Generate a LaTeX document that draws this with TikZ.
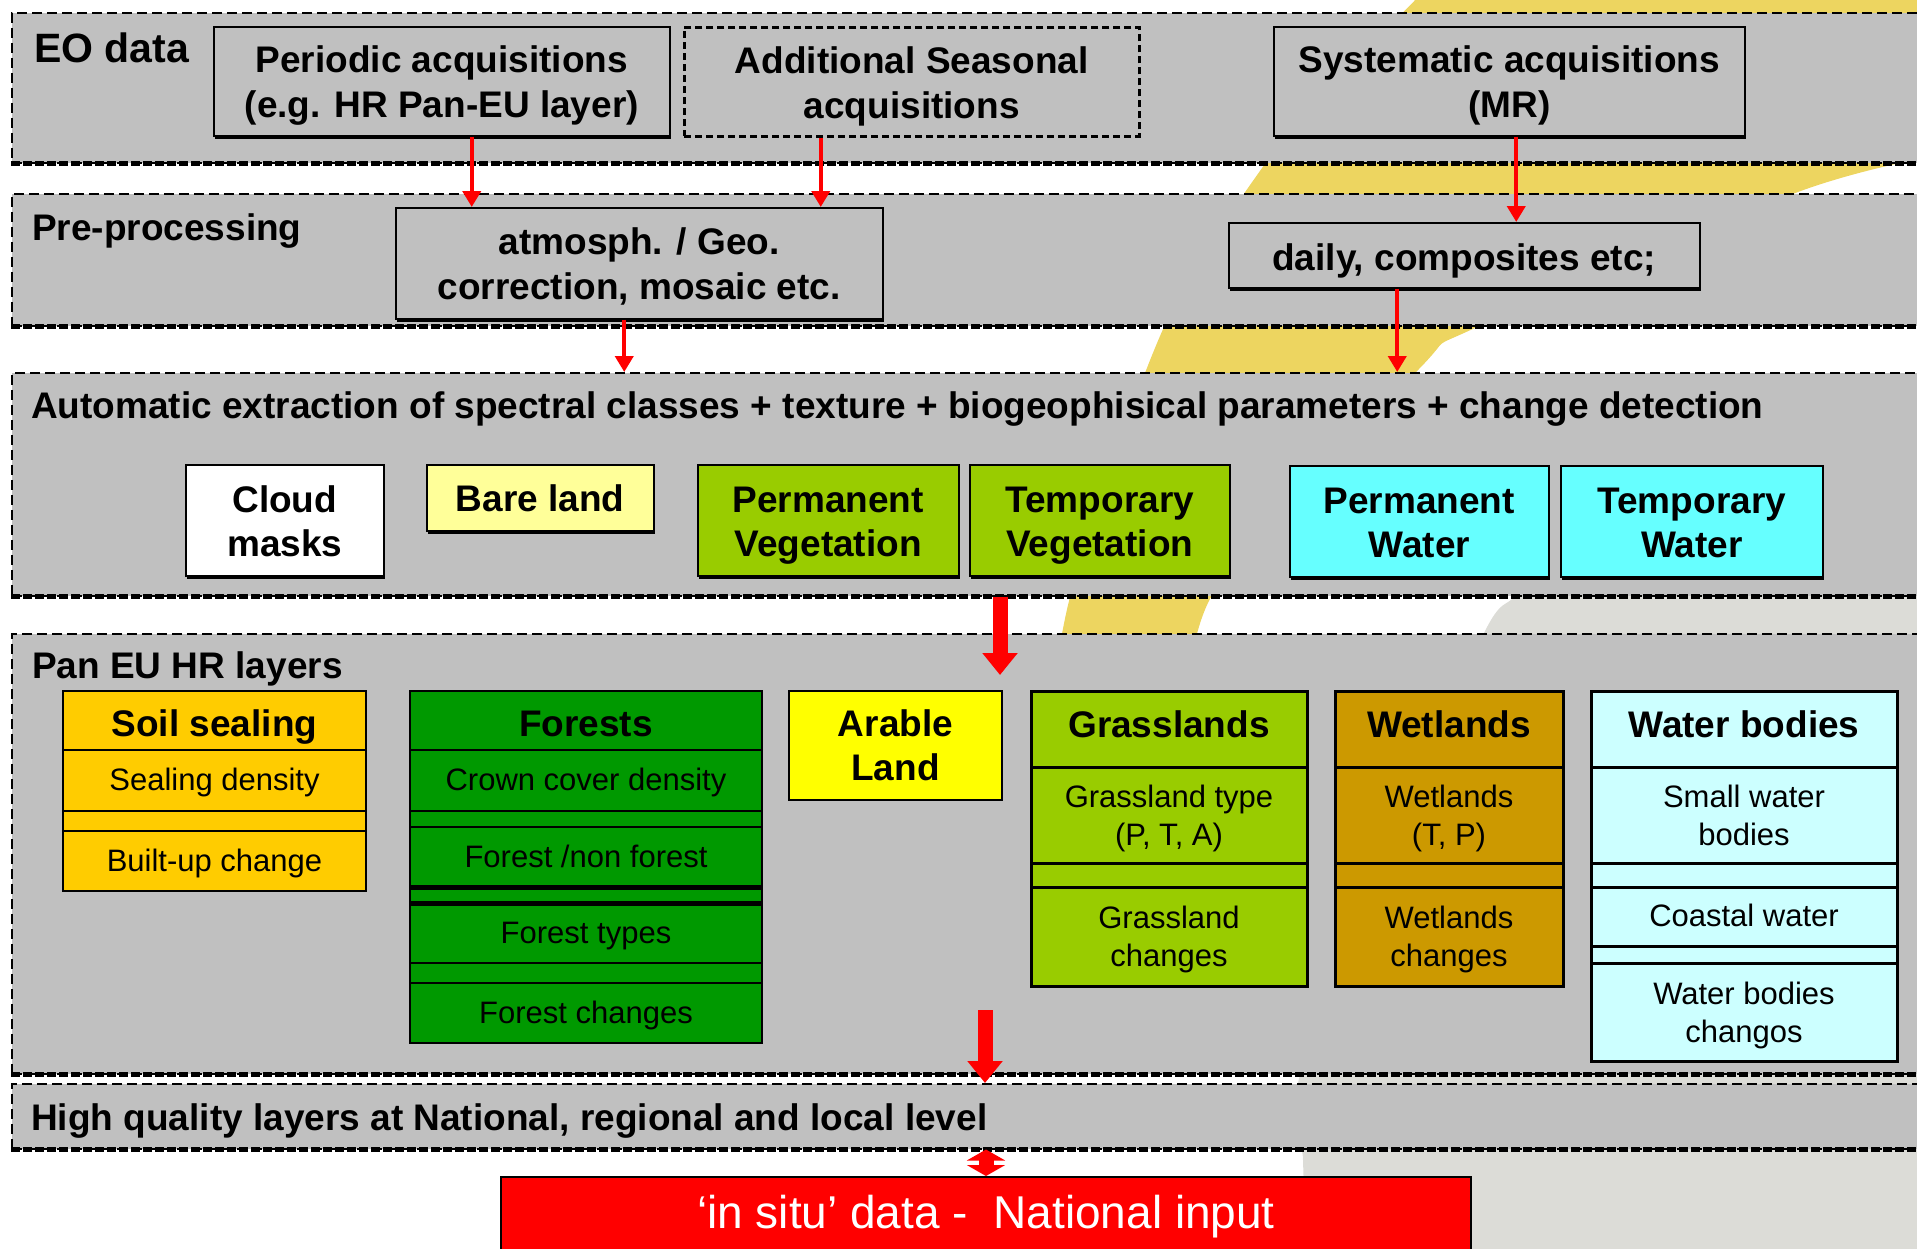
\documentclass[tikz,border=0pt]{standalone}
\usepackage{fontspec}
\setmainfont{Liberation Sans}
\usetikzlibrary{arrows.meta,positioning,shadows}

\definecolor{bandgray}{HTML}{C0C0C0}
\definecolor{swoosh}{HTML}{EDD560}
\definecolor{swooshgray}{HTML}{DCDCD7}
\definecolor{bare}{HTML}{FFFF99}
\definecolor{veg}{HTML}{99CC00}
\definecolor{water}{HTML}{66FFFF}
\definecolor{soil}{HTML}{FFCC00}
\definecolor{forest}{HTML}{009900}
\definecolor{arable}{HTML}{FFFF00}
\definecolor{wet}{HTML}{CC9900}
\definecolor{waterb}{HTML}{CCFFFF}

\newcommand{\labfont}{\fontsize{37}{44}\selectfont\bfseries}
\newcommand{\srcfont}{\fontsize{37}{45}\selectfont\bfseries}
\newcommand{\eofont}{\fontsize{41}{48}\selectfont\bfseries}
\newcommand{\rowfont}{\fontsize{31}{38}\selectfont}
\newcommand{\insitufont}{\fontsize{46}{52}\selectfont}

\begin{document}
\begin{tikzpicture}[x=1pt, y=-1pt,
  band/.style={draw=black, line width=1.5pt, dash pattern=on 10pt off 5pt, fill=bandgray, anchor=north west, minimum width=1950pt, inner sep=0pt},
  bandfoot/.style={line width=4.5pt, dash pattern=on 9pt off 3pt},
  bandlabel/.style={anchor=base west, inner sep=0pt, font=\labfont},
  srcbox/.style={draw=black, line width=1.5pt, fill=bandgray, anchor=north west, align=center, inner sep=0pt, font=\srcfont, text height=73pt, text depth=0pt},
  shadowed/.style={drop shadow={shadow xshift=1.5pt, shadow yshift=-3.5pt, fill=black, opacity=1}},
  classbox/.style={srcbox, shadowed, fill=#1, font=\labfont},
  head/.style 2 args={draw=black, line width=2pt, fill=#1, minimum width=#2, anchor=north west, align=center, inner sep=0pt, outer sep=0pt, font=\labfont},
  cell/.style 2 args={draw=black, line width=2pt, fill=#1, minimum width=#2, align=center, inner sep=0pt, outer sep=0pt, font=\rowfont},
  onerow/.style={text height=20pt, text depth=0pt},
  tworow/.style={text height=60pt, text depth=0pt},
  sepline/.style={line width=5pt},
  thinarrow/.style={red, line width=4pt, -{Triangle[width=18pt,length=16pt]}},
  fatarrow/.style={red, line width=15pt, -{Triangle[width=34pt,length=22pt]}},
  fatboth/.style={red, line width=15pt, {Triangle[width=38pt,length=11pt]}-{Triangle[width=38pt,length=11pt]}}
]
\useasboundingbox (0,0) rectangle (1917,1248);
\clip (0,0) rectangle (1917,1248);

% background swooshes
\fill[swoosh] plot[smooth] coordinates {(1425,-10) (1340,78) (1267,161) (1164,327) (1070,597) (1040,800)}
  -- plot[smooth] coordinates {(1180,800) (1211,597) (1418,370) (1477,327) (1798,192) (1940,155)}
  -- (1940,-10) -- cycle;
\fill[swooshgray] plot[smooth] coordinates {(1560,540) (1516,595) (1484,633) (1390,850) (1300,1075) (1303,1160) (1306,1260)}
  -- (1940,1260) -- (1940,540) -- cycle;

% bands
\node[band, minimum height=150pt] (eo) at (11,12) {};
\node[band, minimum height=132pt] (pre) at (11,193) {};
\node[band, minimum height=223pt] (auto) at (11,372) {};
\node[band, minimum height=440pt] (pan) at (11,633) {};
\node[band, minimum height=65pt] (hq) at (11,1083) {};
\foreach \b in {eo,pre,auto,pan,hq}
  \draw[bandfoot] (\b.south west) -- (\b.south east);

\node[bandlabel, font=\eofont] (eolab) at (34,62) {EO data};
\node[bandlabel] (prelab) at (32,240) {Pre-processing};
\node[bandlabel] (autolab) at (31,418) {Automatic extraction of spectral classes + texture + biogeophisical parameters + change detection};
\node[bandlabel] (panlab) at (32,678) {Pan EU HR layers};
\node[bandlabel] (hqlab) at (31,1130) {High quality layers at National, regional and local level};

% acquisitions and pre-processing
\node[srcbox, shadowed, minimum width=456pt, minimum height=109pt] (per) at (213,26) {Periodic acquisitions\\(e.g. HR Pan-EU layer)};
\node[srcbox, line width=2.5pt, dash pattern=on 7pt off 4pt, minimum width=455pt, minimum height=109pt] (add) at (683,26) {Additional Seasonal\\acquisitions};
\node[srcbox, shadowed, minimum width=471pt, minimum height=109pt] (sys) at (1273,26) {Systematic acquisitions\\(MR)};
\node[srcbox, shadowed, minimum width=487pt, minimum height=111pt] (atm) at (395,207) {atmosph. / Geo.\\correction, mosaic etc.};
\node[srcbox, shadowed, text height=31pt, minimum width=471pt, minimum height=65pt] (daily) at (1228,222) {daily, composites etc;};

% spectral classes
\node[classbox=white, minimum width=198pt, minimum height=111pt] (cloud) at (185,464) {Cloud\\masks};
\node[classbox=bare, text height=27pt, minimum width=227pt, minimum height=66pt] (bare) at (426,464) {Bare land};
\node[classbox=veg, minimum width=261pt, minimum height=111pt] (pveg) at (697,464) {Permanent\\Vegetation};
\node[classbox=veg, minimum width=260pt, minimum height=111pt] (tveg) at (969,464) {Temporary\\Vegetation};
\node[classbox=water, minimum width=259pt, minimum height=111pt] (pwat) at (1289,465) {Permanent\\Water};
\node[classbox=water, minimum width=262pt, minimum height=111pt] (twat) at (1560,465) {Temporary\\Water};

% HR layers
\node[head={soil}{303pt}, text height=32pt, text depth=0pt, minimum height=59pt] (soil) at (63,691) {Soil sealing};
\node[cell={soil}{303pt}, onerow, minimum height=61pt, below=0pt of soil] (soil1) {Sealing density};
\node[cell={soil}{303pt}, minimum height=20pt, below=0pt of soil1] (soil2) {};
\node[cell={soil}{303pt}, onerow, minimum height=60pt, below=0pt of soil2] (soil3) {Built-up change};

\node[head={forest}{352pt}, text height=32pt, text depth=0pt, minimum height=59pt] (forest) at (410,691) {Forests};
\node[cell={forest}{352pt}, onerow, minimum height=61pt, below=0pt of forest] (forest1) {Crown cover density};
\node[cell={forest}{352pt}, minimum height=16pt, below=0pt of forest1] (forest2) {};
\node[cell={forest}{352pt}, onerow, minimum height=60pt, below=0pt of forest2] (forest3) {Forest /non forest};
\node[cell={forest}{352pt}, minimum height=16pt, below=0pt of forest3] (forest4) {};
\node[cell={forest}{352pt}, onerow, minimum height=60pt, below=0pt of forest4] (forest5) {Forest types};
\node[cell={forest}{352pt}, minimum height=20pt, below=0pt of forest5] (forest6) {};
\node[cell={forest}{352pt}, onerow, minimum height=60pt, below=0pt of forest6] (forest7) {Forest changes};
\draw[sepline] (forest3.south west) -- (forest3.south east);
\draw[sepline] (forest4.south west) -- (forest4.south east);

\node[head={arable}{213pt}, minimum height=109pt] (arable) at (789,691) {Arable\\Land};

\node[head={veg}{276pt}, line width=3pt, text height=27pt, text depth=10pt, minimum height=76pt] (grass) at (1031,691) {Grasslands};
\node[cell={veg}{276pt}, line width=3pt, tworow, minimum height=96pt, below=0pt of grass] (grass1) {Grassland type\\(P, T, A)};
\node[cell={veg}{276pt}, line width=3pt, minimum height=24pt, below=0pt of grass1] (grass2) {};
\node[cell={veg}{276pt}, line width=3pt, tworow, minimum height=99pt, below=0pt of grass2] (grass3) {Grassland\\changes};

\node[head={wet}{228pt}, line width=3pt, text height=27pt, text depth=10pt, minimum height=76pt] (wetl) at (1335,691) {Wetlands};
\node[cell={wet}{228pt}, line width=3pt, tworow, minimum height=96pt, below=0pt of wetl] (wetl1) {Wetlands\\(T, P)};
\node[cell={wet}{228pt}, line width=3pt, minimum height=24pt, below=0pt of wetl1] (wetl2) {};
\node[cell={wet}{228pt}, line width=3pt, tworow, minimum height=99pt, below=0pt of wetl2] (wetl3) {Wetlands\\changes};

\node[head={waterb}{306pt}, line width=3pt, text height=27pt, text depth=10pt, minimum height=76pt] (wbod) at (1591,691) {Water bodies};
\node[cell={waterb}{306pt}, line width=3pt, tworow, minimum height=96pt, below=0pt of wbod] (wbod1) {Small water\\bodies};
\node[cell={waterb}{306pt}, line width=3pt, minimum height=24pt, below=0pt of wbod1] (wbod2) {};
\node[cell={waterb}{306pt}, line width=3pt, onerow, minimum height=59pt, below=0pt of wbod2] (wbod3) {Coastal water};
\node[cell={waterb}{306pt}, line width=3pt, minimum height=17pt, below=0pt of wbod3] (wbod4) {};
\node[cell={waterb}{306pt}, line width=3pt, tworow, minimum height=98pt, below=0pt of wbod4] (wbod5) {Water bodies\\changos};

% national input
\node[draw=black, line width=1.5pt, fill=red, text=white, font=\insitufont, minimum width=970pt, minimum height=80pt, anchor=north, inner sep=0pt] (insitu) at (986,1176) {‘in situ’ data - \ National input};

% arrows
\draw[thinarrow] ([xshift=30pt]per.south) -- ([xshift=30pt]per.south |- atm.north);
\draw[thinarrow] ([xshift=-91pt]add.south) -- ([xshift=-91pt]add.south |- atm.north);
\draw[thinarrow] ([xshift=7pt]sys.south) -- ([xshift=7pt]sys.south |- daily.north);
\draw[thinarrow] ([xshift=-15pt]atm.south) -- ([xshift=-15pt]atm.south |- auto.north);
\draw[thinarrow] ([xshift=-67pt]daily.south) -- ([xshift=-67pt]daily.south |- auto.north);

\coordinate (fattip) at (1000,675);
\coordinate (fatfoot) at (985,1010);
\draw[fatarrow] (fattip |- auto.south) -- (fattip);
\draw[fatarrow] (fatfoot) -- (fatfoot |- hq.north);
\draw[fatboth] (insitu.north |- hq.south) -- (insitu.north);
\end{tikzpicture}
\end{document}
